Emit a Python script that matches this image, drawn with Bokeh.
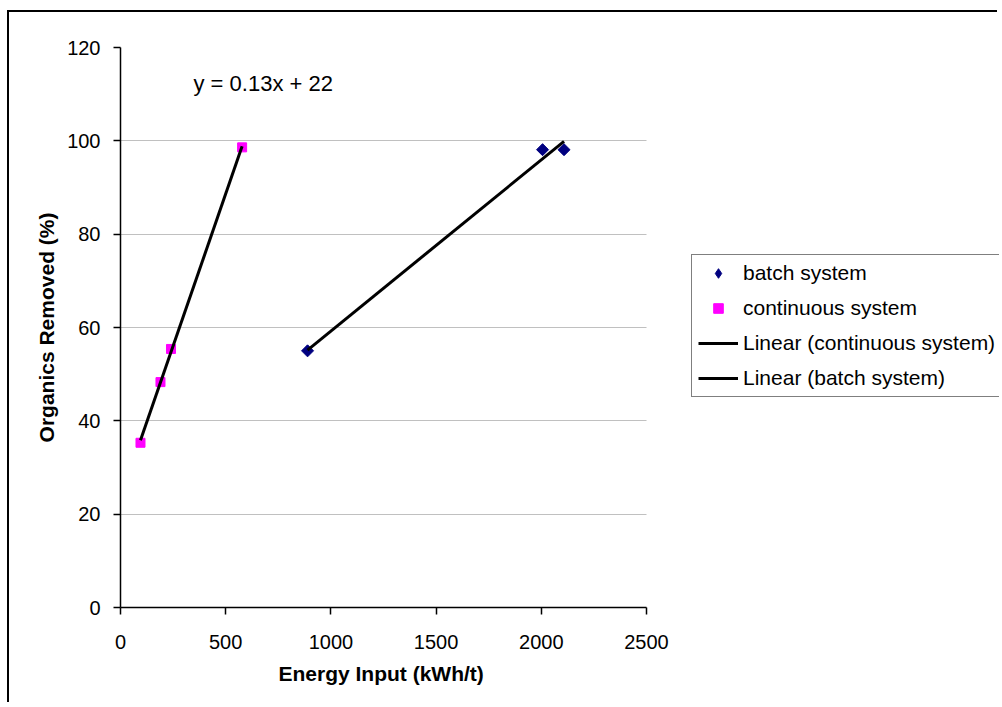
import numpy as np
from bokeh.plotting import figure
from bokeh.models import FixedTicker, Legend, LegendItem, Title
from bokeh.core.properties import value
from bokeh.embed import file_html
from bokeh.resources import INLINE

# ---- data ----
batch_x = [889, 2006, 2108]
batch_y = [55.0, 98.1, 98.1]
cont_x = [95, 190, 240, 578]
cont_y = [35.3, 48.3, 55.4, 98.6]
x_ticks = [0, 500, 1000, 1500, 2000, 2500]
y_ticks = [0, 20, 40, 60, 80, 100, 120]
series_names = ["batch system", "continuous system",
                "Linear (continuous system)", "Linear (batch system)"]
equation_text = "y = 0.13x + 22"
x_title = "Energy Input (kWh/t)"
y_title = "Organics Removed (%)"

FONT = "Liberation Sans"
X_MIN, X_MAX = 0, 2500
Y_MIN, Y_MAX = 0, 120

# The frame is widened to the right so that the legend (which sits outside
# the axes area) is not clipped; axis and grid are bounded to 0..2500.
W, H = 990, 692
BL, BT, BB = 111, 35, 97
AXIS_PX = 526                     # pixel length of the 0..2500 axis
frame_w = W - BL
x_end = X_MAX * frame_w / AXIS_PX

p = figure(width=W, height=H, x_range=(X_MIN, x_end), y_range=(Y_MIN, Y_MAX),
           output_backend="svg", toolbar_location=None,
           min_border_left=BL, min_border_top=BT,
           min_border_right=0, min_border_bottom=BB)
p.styles = {"border-top": "2px solid black", "border-left": "2px solid black",
            "margin-left": "7px", "margin-top": "10px"}
p.background_fill_color = "white"
p.border_fill_color = "white"
p.outline_line_color = None

# axes
p.xaxis.ticker = FixedTicker(ticks=x_ticks)
p.yaxis.ticker = FixedTicker(ticks=y_ticks)
p.xaxis.bounds = (X_MIN, X_MAX)
for ax in (p.xaxis[0], p.yaxis[0]):
    ax.axis_line_color = "black"
    ax.axis_line_width = 1.5
    ax.major_tick_line_color = "black"
    ax.major_tick_line_width = 1.5
    ax.major_tick_out = 7
    ax.major_tick_in = 0
    ax.minor_tick_line_color = None
    ax.major_label_text_font = FONT
    ax.major_label_text_font_size = "20px"
    ax.major_label_text_color = "black"
    ax.axis_label_text_font = FONT
    ax.axis_label_text_font_size = "21px"
    ax.axis_label_text_font_style = "bold"
    ax.axis_label_text_color = "black"
p.yaxis.axis_label = y_title
p.xaxis.major_label_standoff = 20
p.yaxis.major_label_standoff = 13
p.yaxis.axis_label_standoff = 6

# x-axis title, centred under the bounded (0..2500) axis
xt = Title(text=x_title, align="left", offset=158, standoff=16,
           text_font=FONT, text_font_size="21px", text_font_style="bold",
           text_color="black")
p.add_layout(xt, "below")

p.xgrid.visible = False
p.ygrid.ticker = FixedTicker(ticks=y_ticks)
p.ygrid.cross_bounds = (X_MIN, X_MAX)
p.ygrid.grid_line_color = "#c0c0c0"
p.ygrid.grid_line_width = 1.2

# markers (the diamond underneath only serves as the legend glyph)
r_batch_leg = p.scatter(batch_x, batch_y, marker="diamond", size=10,
                        fill_color="#000080", line_color="#000080")
r_batch = p.scatter(batch_x, batch_y, marker="square", angle=np.pi / 4, size=8.5,
                    fill_color="#000080", line_color="#000080")
r_cont = p.scatter(cont_x, cont_y, marker="square", size=9,
                   fill_color="#ff00ff", line_color="#ff00ff")

# linear trend lines (least squares)
def trend(xs, ys):
    k, b = np.polyfit(xs, ys, 1)
    x0, x1 = min(xs), max(xs)
    return [x0, x1], [k * x0 + b, k * x1 + b]

tcx, tcy = trend(cont_x, cont_y)
tbx, tby = trend(batch_x, batch_y)
r_tc = p.line(tcx, tcy, line_color="black", line_width=3)
r_tb = p.line(tbx, tby, line_color="black", line_width=3)

# equation label
p.text(x=[347], y=[112.3], text=[equation_text], text_font=value(FONT),
       text_font_size="22px", text_color="black",
       text_align="left", text_baseline="middle")

legend = Legend(items=[
    LegendItem(label=series_names[0], renderers=[r_batch_leg]),
    LegendItem(label=series_names[1], renderers=[r_cont]),
    LegendItem(label=series_names[2], renderers=[r_tc]),
    LegendItem(label=series_names[3], renderers=[r_tb]),
], location=(571, 210))
legend.label_text_font = FONT
legend.label_text_font_size = "21px"
legend.label_text_color = "black"
legend.border_line_color = "black"
legend.border_line_width = 1.5
legend.background_fill_color = "white"
legend.background_fill_alpha = 1
legend.padding = 6
legend.spacing = 11
legend.glyph_width = 40
legend.glyph_height = 24
legend.label_height = 24
legend.label_standoff = 5
legend.margin = 0
p.add_layout(legend, "center")

open("out.html", "w").write(file_html(p, INLINE))
